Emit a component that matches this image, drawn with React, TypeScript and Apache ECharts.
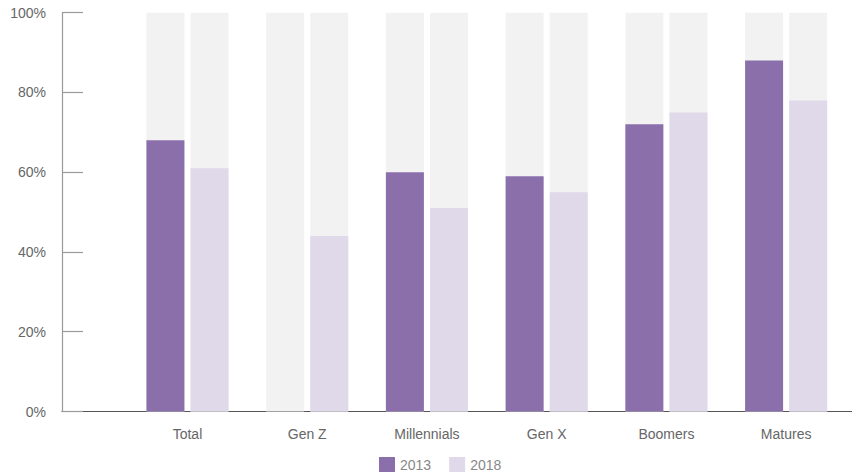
import React, { useEffect, useRef } from "react";
import * as echarts from "echarts";

const categories = ["Total", "Gen Z", "Millennials", "Gen X", "Boomers", "Matures"];
const values2013 = [68, 0, 60, 59, 72, 88];
const values2018 = [61, 44, 51, 55, 75, 78];
const yTicks = [0, 20, 40, 60, 80, 100];

export default function App() {
  const ref = useRef<HTMLDivElement>(null);
  useEffect(() => {
    if (!ref.current) return;
    const chart = echarts.init(ref.current, null, { renderer: "svg" });
    const font = "'Liberation Sans', Arial, Helvetica, sans-serif";
    chart.setOption({
      animation: false,
      textStyle: { fontFamily: font },
      grid: [
        { left: 127.6, right: 6, top: 12.7, bottom: 61.5 },
        { left: 62, right: 0, top: 12.7, bottom: 61.5 },
      ],
      legend: {
        data: ["2013", "2018"],
        left: 374,
        top: 452,
        padding: 5,
        itemWidth: 16,
        itemHeight: 15,
        itemGap: 18,
        icon: "rect",
        textStyle: { color: "#888", fontSize: 14, fontFamily: font },
      },
      xAxis: [
        {
          type: "category",
          gridIndex: 0,
          data: categories,
          axisLine: { show: false },
          axisTick: { show: false },
          axisLabel: { color: "#666", fontSize: 14, margin: 15, fontFamily: font },
        },
        {
          type: "value",
          gridIndex: 1,
          min: 0,
          max: 1,
          axisLine: { show: true, lineStyle: { color: "#555", width: 1.2 } },
          axisTick: { show: false },
          axisLabel: { show: false },
          splitLine: { show: false },
        },
      ],
      yAxis: [
        {
          type: "value",
          gridIndex: 0,
          min: yTicks[0],
          max: yTicks[yTicks.length - 1],
          interval: 20,
          offset: 65.6,
          axisLine: { show: true, lineStyle: { color: "#999", width: 1.2 } },
          axisTick: { show: true, inside: true, length: 21, lineStyle: { color: "#999", width: 1.2 } },
          axisLabel: { color: "#666", fontSize: 14, margin: 16, formatter: "{value}%", fontFamily: font },
          splitLine: { show: false },
        },
        {
          type: "value",
          gridIndex: 1,
          show: false,
          min: 0,
          max: 1,
        },
      ],
      series: [
        {
          name: "2013",
          type: "bar",
          xAxisIndex: 0,
          yAxisIndex: 0,
          data: values2013,
          barWidth: 38,
          barGap: "16%",
          itemStyle: { color: "#8a6fab" },
          showBackground: true,
          backgroundStyle: { color: "#f1f2f1" },
        },
        {
          name: "2018",
          type: "bar",
          xAxisIndex: 0,
          yAxisIndex: 0,
          data: values2018,
          barWidth: 38,
          barGap: "16%",
          itemStyle: { color: "#e0d9ea" },
          showBackground: true,
          backgroundStyle: { color: "#f1f2f1" },
        },
      ],
    });
    return () => chart.dispose();
  }, []);
  return <div ref={ref} style={{ width: 852, height: 473, position: "absolute", left: 0, top: 0 }} />;
}
